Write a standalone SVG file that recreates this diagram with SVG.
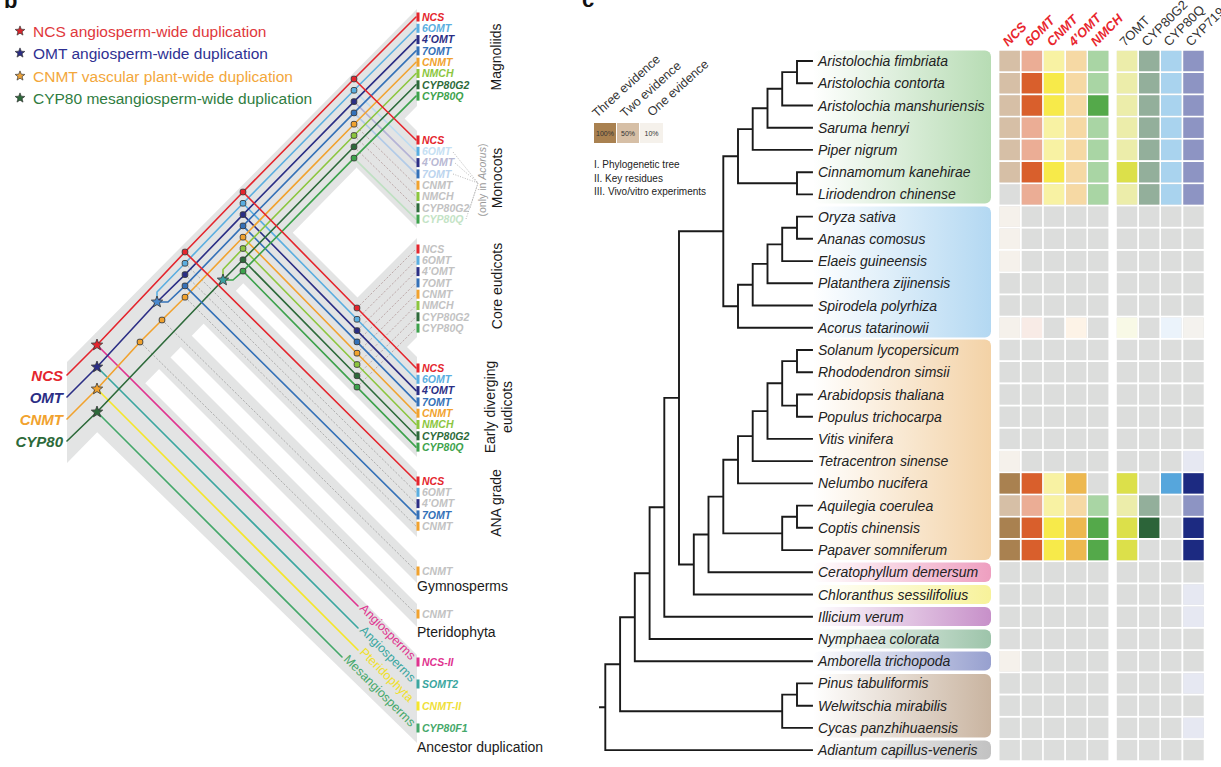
<svg xmlns="http://www.w3.org/2000/svg" width="1221" height="767" viewBox="0 0 1221 767">
<defs>
<style>
text{font-family:"Liberation Sans",Arial,sans-serif}
.bi{font-weight:bold;font-style:italic;font-size:10.5px}
.ln{fill:none;stroke-width:1.6;stroke-linejoin:round;stroke-linecap:round}
.dg{fill:none;stroke:#a0a0a0;stroke-width:0.8;stroke-dasharray:2.2 1.6}
.dr{fill:none;stroke:#b39a9a;stroke-width:0.8;stroke-dasharray:2.2 1.6}
.dot{fill:none;stroke:#9a9a9a;stroke-width:0.7;stroke-dasharray:1 1.5}
.band{fill:#e3e4e4}
.st{stroke:#333;stroke-width:0.8}
.dt{stroke:#3a3a3a;stroke-width:0.9}
.grp{font-size:14px;fill:#1a1a1a}
.sp{font-size:14px;font-style:italic;fill:#222}
.tr{fill:none;stroke:#1a1a1a;stroke-width:1.9;stroke-linecap:square}
.s0{stroke:#e4252d}.s1{stroke:#5aaee0}.s2{stroke:#2b2e85}.s3{stroke:#3471b8}.s4{stroke:#f1a22e}.s5{stroke:#8cc63e}.s6{stroke:#2d6a3a}.s7{stroke:#3da24c}
.f0{fill:#e4252d}.f1{fill:#5aaee0}.f2{fill:#2b2e85}.f3{fill:#3471b8}.f4{fill:#f1a22e}.f5{fill:#8cc63e}.f6{fill:#2d6a3a}.f7{fill:#3da24c}.fg{fill:#c2c2c2}
.hr{font-size:13px;font-weight:bold;font-style:italic;fill:#e8262d}
.hk{font-size:13px;fill:#333}
.anc{font-size:12.5px}
.ev{font-size:12.5px}
</style>
<path id="st" d="M0,-6L1.53,-2.1L5.71,-1.85L2.47,0.8L3.53,4.85L0,2.6L-3.53,4.85L-2.47,0.8L-5.71,-1.85L-1.53,-2.1Z"/>
<rect id="dt" x="-2.8" y="-2.8" width="5.6" height="5.6" rx="1.8"/>
<clipPath id="cb"><rect x="67" y="0" width="350" height="767"/></clipPath>
<linearGradient id="gMag" x1="0" x2="1"><stop offset="0" stop-color="#fff"/><stop offset="1" stop-color="#b7dcb4"/></linearGradient>
<linearGradient id="gMon" x1="0" x2="1"><stop offset="0" stop-color="#fff"/><stop offset="1" stop-color="#b3d8f2"/></linearGradient>
<linearGradient id="gEud" x1="0" x2="1"><stop offset="0" stop-color="#fff"/><stop offset="1" stop-color="#f3d2a6"/></linearGradient>
<linearGradient id="gCer" x1="0" x2="1"><stop offset="0" stop-color="#fff"/><stop offset="1" stop-color="#ee9fc0"/></linearGradient>
<linearGradient id="gChl" x1="0" x2="1"><stop offset="0" stop-color="#fff"/><stop offset="1" stop-color="#f7f29a"/></linearGradient>
<linearGradient id="gIll" x1="0" x2="1"><stop offset="0" stop-color="#fff"/><stop offset="1" stop-color="#c790c9"/></linearGradient>
<linearGradient id="gNym" x1="0" x2="1"><stop offset="0" stop-color="#fff"/><stop offset="1" stop-color="#9dc4aa"/></linearGradient>
<linearGradient id="gAmb" x1="0" x2="1"><stop offset="0" stop-color="#fff"/><stop offset="1" stop-color="#97a0cf"/></linearGradient>
<linearGradient id="gGym" x1="0" x2="1"><stop offset="0" stop-color="#fff"/><stop offset="1" stop-color="#c9b4a0"/></linearGradient>
<linearGradient id="gAdi" x1="0" x2="1"><stop offset="0" stop-color="#fff"/><stop offset="1" stop-color="#c2c2c2"/></linearGradient>
<g id="gr" fill="#dcdddc">
<rect x="999.5" y="0" width="20.4" height="20.4"/><rect x="1021.7" y="0" width="20.4" height="20.4"/><rect x="1043.8" y="0" width="20.4" height="20.4"/><rect x="1066" y="0" width="20.4" height="20.4"/><rect x="1088" y="0" width="20.4" height="20.4"/><rect x="1116.8" y="0" width="20.4" height="20.4"/><rect x="1139" y="0" width="20.4" height="20.4"/><rect x="1161" y="0" width="20.4" height="20.4"/><rect x="1183.3" y="0" width="20.4" height="20.4"/>
</g>
</defs>
<rect width="1221" height="767" fill="#fff"/>

<!-- ===== Panel b ===== -->
<text x="4" y="8" font-size="22" font-weight="bold" fill="#111">b</text>
<g id="legend-b" font-size="15.5">
<use href="#st" x="20" y="31" fill="#d8262c" class="st" transform="translate(20 31) scale(0.85) translate(-20 -31)"/>
<text x="33" y="36.5" fill="#e0383c">NCS angiosperm-wide duplication</text>
<use href="#st" x="20" y="53" fill="#2b2e85" class="st" transform="translate(20 53) scale(0.85) translate(-20 -53)"/>
<text x="33" y="58.5" fill="#2e3192">OMT angiosperm-wide duplication</text>
<use href="#st" x="20" y="76" fill="#eaa23a" class="st" transform="translate(20 76) scale(0.85) translate(-20 -76)"/>
<text x="33" y="81.5" fill="#f3a73b">CNMT vascular plant-wide duplication</text>
<use href="#st" x="20" y="98" fill="#2d6a3a" class="st" transform="translate(20 98) scale(0.85) translate(-20 -98)"/>
<text x="33" y="103.5" fill="#2f7d3f">CYP80 mesangiosperm-wide duplication</text>
</g>

<g id="bands" clip-path="url(#cb)" class="band">
<polygon points="67,362 417,9 417,106 67,463"/>
<polygon points="357,71 417,131 417,228 357,168"/>
<polygon points="243,190 250,190 417,357 417,457 243,283"/>
<polygon points="357,298 417,238 417,337 357,397"/>
<polygon points="190,245 417,472 417,537 190,310"/>
<polygon points="165,309 417,561 417,583 165,331"/>
<polygon points="143,330 417,604 417,627 143,353"/>
<polygon points="95,333 417,655 417,743 97,432"/>
</g>

<g id="connectors">
<path class="dg" d="M185,263.3L416,492.3M185,274.6L416,503.6M185,297.2L416,526.2M162,320L416,571M140,342L416,614"/>
<path class="dr" d="M357,308L416,249M357,319.3L416,260.3M357,330.6L416,271.6M357,341.9L416,282.9M357,353.2L416,294.2M357,364.5L416,305.5M357,375.8L416,316.8M357,387.1L416,328.1"/>
<path class="dr" d="M354,124.2L416,185.2M354,135.5L416,196.5M354,146.8L416,207.8"/>
<path class="ln" stroke="#bcdcf2" d="M354,90.3L416,151.3"/>
<path class="ln" stroke="#b4b3d6" d="M354,101.6L416,162.6"/>
<path class="ln" stroke="#b2cbe8" d="M354,112.9L416,173.9"/>
<path class="ln" stroke="#bfe0c2" d="M354,158.1L416,219.1"/>
<path class="ln" stroke="#e0338f" d="M97,345L358,606"/>
<path class="ln" stroke="#3aa6a0" d="M97,367L358,628"/>
<path class="ln" stroke="#f5e62a" d="M97,389L358,650"/>
<path class="ln" stroke="#45a86a" d="M97,412L342,657"/>
<path class="ln s7" d="M243,271.1L357,387.1L416,447.1"/>
<path class="ln s6" d="M243,259.8L357,375.8L416,435.8"/>
<path class="ln s5" d="M243,248.5L357,364.5L416,424.5"/>
<path class="ln s4" d="M243,237.2L357,353.2L416,413.2"/>
<path class="ln s3" d="M243,225.9L357,341.9L416,401.9"/>
<path class="ln s2" d="M243,214.6L357,330.6L416,390.6"/>
<path class="ln s1" d="M243,203.3L357,319.3L416,379.3"/>
<path class="ln s7" d="M223,280L233,280L243,271.1L354,158.1L416,96.1"/>
<path class="ln s6" d="M67,441L97,412L223,280L243,259.8L354,146.8L416,84.8"/>
<path class="ln s5" d="M223,280L223,269.5L243,248.5L354,135.5L416,73.5"/>
<path class="ln s4" d="M67,419L97,389L140,342L162,320L185,297.2L243,237.2L354,124.2L416,62.2"/>
<path class="ln s3" d="M157,302L168,302L185,285.9L243,225.9L354,112.9L416,50.9"/>
<path class="ln s2" d="M67,397L97,367L157,302L185,274.6L243,214.6L354,101.6L416,39.6"/>
<path class="ln s1" d="M157,302L157,292L185,263.3L243,203.3L354,90.3L416,28.3"/>
<path class="ln s3" d="M185,285.9L416,514.9"/>
<path class="ln s0" d="M67,375L97,345L185,252L243,192L354,79L416,17"/>
<path class="ln s0" d="M185,252L416,481M243,192L357,308L416,368M354,79L416,140"/>
</g>

<g id="nodes-b" class="dt">
<use href="#dt" x="185" y="252" class="f0"/><use href="#dt" x="185" y="263.3" class="f1"/><use href="#dt" x="185" y="274.6" class="f2"/><use href="#dt" x="185" y="285.9" class="f3"/><use href="#dt" x="185" y="297.2" class="f4"/>
<use href="#dt" x="243" y="192" class="f0"/><use href="#dt" x="243" y="203.3" class="f1"/><use href="#dt" x="243" y="214.6" class="f2"/><use href="#dt" x="243" y="225.9" class="f3"/><use href="#dt" x="243" y="237.2" class="f4"/><use href="#dt" x="243" y="248.5" class="f5"/><use href="#dt" x="243" y="259.8" class="f6"/><use href="#dt" x="243" y="271.1" class="f7"/>
<use href="#dt" x="354" y="79" class="f0"/><use href="#dt" x="354" y="90.3" class="f1"/><use href="#dt" x="354" y="101.6" class="f2"/><use href="#dt" x="354" y="112.9" class="f3"/><use href="#dt" x="354" y="124.2" class="f4"/><use href="#dt" x="354" y="135.5" class="f5"/><use href="#dt" x="354" y="146.8" class="f6"/><use href="#dt" x="354" y="158.1" class="f7"/>
<use href="#dt" x="357" y="308" class="f0"/><use href="#dt" x="357" y="319.3" class="f1"/><use href="#dt" x="357" y="330.6" class="f2"/><use href="#dt" x="357" y="341.9" class="f3"/><use href="#dt" x="357" y="353.2" class="f4"/><use href="#dt" x="357" y="364.5" class="f5"/><use href="#dt" x="357" y="375.8" class="f6"/><use href="#dt" x="357" y="387.1" class="f7"/>
<use href="#dt" x="140" y="342" class="f4"/><use href="#dt" x="162" y="320" class="f4"/>
</g>
<g id="stars-b" class="st">
<use href="#st" x="97" y="345" fill="#e4252d"/>
<use href="#st" x="97" y="367" fill="#2b2e85"/>
<use href="#st" x="97" y="389" fill="#f1a22e"/>
<use href="#st" x="97" y="412" fill="#2d6a3a"/>
<use href="#st" x="157" y="302" fill="#4a8ad0"/>
<use href="#st" x="223" y="280" fill="#3a9fa0"/>
</g>

<g id="root-labels" font-size="15" font-weight="bold" font-style="italic" text-anchor="end">
<text x="63" y="380.5" fill="#e4252d">NCS</text>
<text x="63" y="402.5" fill="#2b2e85">OMT</text>
<text x="63" y="424.5" fill="#f1a22e">CNMT</text>
<text x="63" y="446.5" fill="#2d6a3a">CYP80</text>
</g>

<g id="tips-magnoliids">
<rect x="416.5" y="12.5" width="3" height="9" class="f0"/><text x="422" y="20.8" class="bi f0">NCS</text>
<rect x="416.5" y="23.8" width="3" height="9" class="f1"/><text x="422" y="32.1" class="bi f1">6OMT</text>
<rect x="416.5" y="35.1" width="3" height="9" class="f2"/><text x="422" y="43.4" class="bi f2">4’OMT</text>
<rect x="416.5" y="46.4" width="3" height="9" class="f3"/><text x="422" y="54.7" class="bi f3">7OMT</text>
<rect x="416.5" y="57.7" width="3" height="9" class="f4"/><text x="422" y="66" class="bi f4">CNMT</text>
<rect x="416.5" y="69" width="3" height="9" class="f5"/><text x="422" y="77.3" class="bi f5">NMCH</text>
<rect x="416.5" y="80.3" width="3" height="9" class="f6"/><text x="422" y="88.6" class="bi f6">CYP80G2</text>
<rect x="416.5" y="91.6" width="3" height="9" class="f7"/><text x="422" y="99.9" class="bi f7">CYP80Q</text>
</g>
<g id="tips-monocots">
<rect x="416.5" y="135.5" width="3" height="9" class="f0"/><text x="422" y="143.8" class="bi f0">NCS</text>
<rect x="416.5" y="146.8" width="3" height="9" class="f1"/><text x="422" y="155.1" class="bi" fill="#c5e0f3">6OMT</text>
<rect x="416.5" y="158.1" width="3" height="9" class="f2"/><text x="422" y="166.4" class="bi" fill="#b8b8d3">4’OMT</text>
<rect x="416.5" y="169.4" width="3" height="9" class="f3"/><text x="422" y="177.7" class="bi" fill="#bcd4ee">7OMT</text>
<rect x="416.5" y="180.7" width="3" height="9" class="f4"/><text x="422" y="189" class="bi fg">CNMT</text>
<rect x="416.5" y="192" width="3" height="9" class="f5"/><text x="422" y="200.3" class="bi fg">NMCH</text>
<rect x="416.5" y="203.3" width="3" height="9" class="f6"/><text x="422" y="211.6" class="bi fg">CYP80G2</text>
<rect x="416.5" y="214.6" width="3" height="9" class="f7"/><text x="422" y="222.9" class="bi" fill="#c3e3c5">CYP80Q</text>
<path class="dot" d="M453,152L478,183M455,163L478,183M453,174L478,183M470,208L478,183M466,219L478,183"/>
</g>
<g id="tips-core">
<rect x="416.5" y="244.5" width="3" height="9" class="f0"/><text x="422" y="252.8" class="bi fg">NCS</text>
<rect x="416.5" y="255.8" width="3" height="9" class="f1"/><text x="422" y="264.1" class="bi fg">6OMT</text>
<rect x="416.5" y="267.1" width="3" height="9" class="f2"/><text x="422" y="275.4" class="bi fg">4’OMT</text>
<rect x="416.5" y="278.4" width="3" height="9" class="f3"/><text x="422" y="286.7" class="bi fg">7OMT</text>
<rect x="416.5" y="289.7" width="3" height="9" class="f4"/><text x="422" y="298" class="bi fg">CNMT</text>
<rect x="416.5" y="301" width="3" height="9" class="f5"/><text x="422" y="309.3" class="bi fg">NMCH</text>
<rect x="416.5" y="312.3" width="3" height="9" class="f6"/><text x="422" y="320.6" class="bi fg">CYP80G2</text>
<rect x="416.5" y="323.6" width="3" height="9" class="f7"/><text x="422" y="331.9" class="bi fg">CYP80Q</text>
</g>
<g id="tips-early">
<rect x="416.5" y="363.5" width="3" height="9" class="f0"/><text x="422" y="371.8" class="bi f0">NCS</text>
<rect x="416.5" y="374.8" width="3" height="9" class="f1"/><text x="422" y="383.1" class="bi f1">6OMT</text>
<rect x="416.5" y="386.1" width="3" height="9" class="f2"/><text x="422" y="394.4" class="bi f2">4’OMT</text>
<rect x="416.5" y="397.4" width="3" height="9" class="f3"/><text x="422" y="405.7" class="bi f3">7OMT</text>
<rect x="416.5" y="408.7" width="3" height="9" class="f4"/><text x="422" y="417" class="bi f4">CNMT</text>
<rect x="416.5" y="420" width="3" height="9" class="f5"/><text x="422" y="428.3" class="bi f5">NMCH</text>
<rect x="416.5" y="431.3" width="3" height="9" class="f6"/><text x="422" y="439.6" class="bi f6">CYP80G2</text>
<rect x="416.5" y="442.6" width="3" height="9" class="f7"/><text x="422" y="450.9" class="bi f7">CYP80Q</text>
</g>
<g id="tips-ana">
<rect x="416.5" y="476.5" width="3" height="9" class="f0"/><text x="422" y="484.8" class="bi f0">NCS</text>
<rect x="416.5" y="487.8" width="3" height="9" class="f1"/><text x="422" y="496.1" class="bi fg">6OMT</text>
<rect x="416.5" y="499.1" width="3" height="9" class="f2"/><text x="422" y="507.4" class="bi fg">4’OMT</text>
<rect x="416.5" y="510.4" width="3" height="9" class="f3"/><text x="422" y="518.7" class="bi f3">7OMT</text>
<rect x="416.5" y="521.7" width="3" height="9" class="f4"/><text x="422" y="530" class="bi fg">CNMT</text>
</g>
<g id="tips-gymno-pterido">
<rect x="416.5" y="566.5" width="3" height="9" class="f4"/><text x="422" y="574.8" class="bi fg">CNMT</text>
<text x="417" y="591" class="grp">Gymnosperms</text>
<rect x="416.5" y="609.5" width="3" height="9" class="f4"/><text x="422" y="617.8" class="bi fg">CNMT</text>
<text x="417" y="637" class="grp">Pteridophyta</text>
</g>
<g id="tips-ancestor">
<text transform="rotate(45 359 609)" x="359" y="609" class="anc" fill="#e0338f">Angiosperms</text>
<text transform="rotate(45 359 631)" x="359" y="631" class="anc" fill="#3aa6a0">Angiosperms</text>
<text transform="rotate(45 359 653)" x="359" y="653" class="anc" fill="#f0e02a">Pteridophyta</text>
<text transform="rotate(45 343 660)" x="343" y="660" class="anc" fill="#45a86a">Mesangiosperms</text>
<rect x="416.5" y="657.5" width="3" height="9" fill="#e0338f"/><text x="422" y="665.8" class="bi" fill="#e0338f">NCS-II</text>
<rect x="416.5" y="679.5" width="3" height="9" fill="#3aa6a0"/><text x="422" y="687.8" class="bi" fill="#3aa6a0">SOMT2</text>
<rect x="416.5" y="701.5" width="3" height="9" fill="#f5e62a"/><text x="422" y="709.8" class="bi" fill="#efe03a">CNMT-II</text>
<rect x="416.5" y="723.5" width="3" height="9" fill="#45a86a"/><text x="422" y="731.8" class="bi" fill="#45a86a">CYP80F1</text>
<text x="417" y="752" class="grp">Ancestor duplication</text>
</g>
<g id="clade-labels" class="grp" text-anchor="middle">
<text transform="rotate(-90 501 57)" x="501" y="57">Magnoliids</text>
<text transform="rotate(-90 502 178)" x="502" y="178">Monocots</text>
<text transform="rotate(-90 486 180)" x="486" y="180" font-size="10.5" fill="#9a9a9a">(only in <tspan font-style="italic">Acorus</tspan>)</text>
<text transform="rotate(-90 502 286)" x="502" y="286">Core eudicots</text>
<text transform="rotate(-90 495 407)" x="495" y="407">Early diverging</text>
<text transform="rotate(-90 512 407)" x="512" y="407">eudicots</text>
<text transform="rotate(-90 501 503)" x="501" y="503">ANA grade</text>
</g>

<!-- ===== Panel c ===== -->
<text x="582" y="7" font-size="22" font-weight="bold" fill="#111">c</text>
<g id="legend-c" fill="#333">
<text transform="rotate(-42 597 118)" x="597" y="118" class="ev">Three evidence</text>
<text transform="rotate(-42 625 118)" x="625" y="118" class="ev">Two evidence</text>
<text transform="rotate(-42 652 117)" x="652" y="117" class="ev">One evidence</text>
<rect x="594" y="123" width="22" height="20" fill="#a98150"/>
<rect x="617" y="123" width="22" height="20" fill="#d6bfa6"/>
<rect x="640" y="123" width="23" height="20" fill="#f5f1eb"/>
<g font-size="7" text-anchor="middle">
<text x="605" y="135.5">100%</text><text x="628" y="135.5">50%</text><text x="651.5" y="135.5">10%</text>
</g>
<g font-size="10" fill="#222">
<text x="594" y="168">I. Phylogenetic tree</text>
<text x="594" y="182">II. Key residues</text>
<text x="594" y="195">III. Vivo/vitro experiments</text>
</g>
</g>

<g id="clade-boxes">
<rect x="813" y="50.5" width="178" height="153" rx="6" fill="url(#gMag)"/>
<rect x="813" y="206.5" width="178" height="131" rx="6" fill="url(#gMon)"/>
<rect x="813" y="339.5" width="178" height="220.5" rx="6" fill="url(#gEud)"/>
<rect x="813" y="562.5" width="178" height="19.5" rx="6" fill="url(#gCer)"/>
<rect x="813" y="585" width="178" height="19" rx="6" fill="url(#gChl)"/>
<rect x="813" y="607" width="178" height="19" rx="6" fill="url(#gIll)"/>
<rect x="813" y="629.5" width="178" height="19" rx="6" fill="url(#gNym)"/>
<rect x="813" y="651.5" width="178" height="19" rx="6" fill="url(#gAmb)"/>
<rect x="813" y="674" width="178" height="63.5" rx="6" fill="url(#gGym)"/>
<rect x="813" y="740.5" width="178" height="19" rx="6" fill="url(#gAdi)"/>
</g>

<g id="tree-c">
<path class="tr" d="M797,61H812M797,83.2H812M782.2,105.5H812M767.5,127.7H812M752.7,149.9H812M797,172.2H812M797,194.4H812M797,216.6H812M797,238.8H812M782.2,261.1H812M767.5,283.3H812M752.7,305.5H812M738,327.8H812M797,350H812M797,372.2H812M797,394.5H812M797,416.7H812M767.5,438.9H812M752.7,461.1H812M738,483.4H812M797,505.6H812M797,527.8H812M782.2,550.1H812M708.5,572.3H812M693.8,594.5H812M664.3,616.8H812M649.6,639H812M634.8,661.2H812M797,683.4H812M797,705.7H812M782.2,727.9H812M605.3,750.1H812
M797,61V83.2M782.2,72.1V105.5M782.2,72.1H797M767.5,88.8V127.7M767.5,88.8H782.2M752.7,108.2V149.9M752.7,108.2H767.5M797,172.2V194.4M738,129.1V183.3M738,129.1H752.7M738,183.3H797
M797,216.6V238.8M782.2,227.7V261.1M782.2,227.7H797M767.5,244.4V283.3M767.5,244.4H782.2M752.7,263.9V305.5M752.7,263.9H767.5M738,284.7V327.8M738,284.7H752.7
M723.3,156.2V306.2M723.3,156.2H738M723.3,306.2H738
M797,350V372.2M797,394.5V416.7M782.2,361.1V405.6M782.2,361.1H797M782.2,405.6H797M767.5,383.3V438.9M767.5,383.3H782.2M752.7,411.1V461.1M752.7,411.1H767.5M738,436.1V483.4M738,436.1H752.7
M797,505.6V527.8M782.2,516.7V550.1M782.2,516.7H797
M723.3,459.8V533.4M723.3,459.8H738M723.3,533.4H782.2
M708.5,496.6V572.3M708.5,496.6H723.3M693.8,534.5V594.5M693.8,534.5H708.5
M679,231.2V564.5M679,231.2H723.3M679,564.5H693.8
M664.3,397.9V616.8M664.3,397.9H679M649.6,507.3V639M649.6,507.3H664.3M634.8,573.2V661.2M634.8,573.2H649.6
M797,683.4V705.7M782.2,694.6V727.9M782.2,694.6H797
M620.1,617.2V711.2M620.1,617.2H634.8M620.1,711.2H782.2
M605.3,664.2V750.1M605.3,664.2H620.1M600,707.2H605.3"/>
</g>

<g id="species" class="sp">
<text x="818" y="66">Aristolochia fimbriata</text>
<text x="818" y="88.2">Aristolochia contorta</text>
<text x="818" y="110.5">Aristolochia manshuriensis</text>
<text x="818" y="132.7">Saruma henryi</text>
<text x="818" y="154.9">Piper nigrum</text>
<text x="818" y="177.2">Cinnamomum kanehirae</text>
<text x="818" y="199.4">Liriodendron chinense</text>
<text x="818" y="221.6">Oryza sativa</text>
<text x="818" y="243.8">Ananas comosus</text>
<text x="818" y="266.1">Elaeis guineensis</text>
<text x="818" y="288.3">Platanthera zijinensis</text>
<text x="818" y="310.5">Spirodela polyrhiza</text>
<text x="818" y="332.8">Acorus tatarinowii</text>
<text x="818" y="355">Solanum lycopersicum</text>
<text x="818" y="377.2">Rhododendron simsii</text>
<text x="818" y="399.5">Arabidopsis thaliana</text>
<text x="818" y="421.7">Populus trichocarpa</text>
<text x="818" y="443.9">Vitis vinifera</text>
<text x="818" y="466.1">Tetracentron sinense</text>
<text x="818" y="488.4">Nelumbo nucifera</text>
<text x="818" y="510.6">Aquilegia coerulea</text>
<text x="818" y="532.8">Coptis chinensis</text>
<text x="818" y="555.1">Papaver somniferum</text>
<text x="818" y="577.3">Ceratophyllum demersum</text>
<text x="818" y="599.5">Chloranthus sessilifolius</text>
<text x="818" y="621.8">Illicium verum</text>
<text x="818" y="644">Nymphaea colorata</text>
<text x="818" y="666.2">Amborella trichopoda</text>
<text x="818" y="688.4">Pinus tabuliformis</text>
<text x="818" y="710.7">Welwitschia mirabilis</text>
<text x="818" y="732.9">Cycas panzhihuaensis</text>
<text x="818" y="755.1">Adiantum capillus-veneris</text>
</g>

<g id="headers">
<text transform="rotate(-45 1008 47)" x="1008" y="47" class="hr">NCS</text>
<text transform="rotate(-45 1030 47)" x="1030" y="47" class="hr">6OMT</text>
<text transform="rotate(-45 1052 47)" x="1052" y="47" class="hr">CNMT</text>
<text transform="rotate(-45 1074 47)" x="1074" y="47" class="hr">4’OMT</text>
<text transform="rotate(-45 1096 47)" x="1096" y="47" class="hr">NMCH</text>
<text transform="rotate(-45 1125 47)" x="1125" y="47" class="hk">7OMT</text>
<text transform="rotate(-45 1147 47)" x="1147" y="47" class="hk">CYP80G2</text>
<text transform="rotate(-45 1169 47)" x="1169" y="47" class="hk">CYP80Q</text>
<text transform="rotate(-45 1191 47)" x="1191" y="47" class="hk">CYP719</text>
</g>

<g id="heatmap">
<use href="#gr" y="50.8"/><use href="#gr" y="73"/><use href="#gr" y="95.3"/><use href="#gr" y="117.5"/><use href="#gr" y="139.7"/><use href="#gr" y="162"/><use href="#gr" y="184.2"/><use href="#gr" y="206.4"/><use href="#gr" y="228.6"/><use href="#gr" y="250.9"/><use href="#gr" y="273.1"/><use href="#gr" y="295.3"/><use href="#gr" y="317.6"/><use href="#gr" y="339.8"/><use href="#gr" y="362"/><use href="#gr" y="384.3"/><use href="#gr" y="406.5"/><use href="#gr" y="428.7"/><use href="#gr" y="450.9"/><use href="#gr" y="473.2"/><use href="#gr" y="495.4"/><use href="#gr" y="517.6"/><use href="#gr" y="539.9"/><use href="#gr" y="562.1"/><use href="#gr" y="584.3"/><use href="#gr" y="606.6"/><use href="#gr" y="628.8"/><use href="#gr" y="651"/><use href="#gr" y="673.2"/><use href="#gr" y="695.5"/><use href="#gr" y="717.7"/><use href="#gr" y="739.9"/>
<rect x="999.5" y="50.8" width="20.4" height="20.4" fill="#d6bfa6"/><rect x="1021.7" y="50.8" width="20.4" height="20.4" fill="#ebad95"/><rect x="1043.8" y="50.8" width="20.4" height="20.4" fill="#f8f2a3"/><rect x="1066" y="50.8" width="20.4" height="20.4" fill="#f6d9a4"/><rect x="1088" y="50.8" width="20.4" height="20.4" fill="#a9d5a4"/><rect x="1116.8" y="50.8" width="20.4" height="20.4" fill="#ecedaa"/><rect x="1139" y="50.8" width="20.4" height="20.4" fill="#93af9b"/><rect x="1161" y="50.8" width="20.4" height="20.4" fill="#a9d3ee"/><rect x="1183.3" y="50.8" width="20.4" height="20.4" fill="#8d94c3"/>
<rect x="999.5" y="73" width="20.4" height="20.4" fill="#d6bfa6"/><rect x="1021.7" y="73" width="20.4" height="20.4" fill="#d95f2c"/><rect x="1043.8" y="73" width="20.4" height="20.4" fill="#f7ea4a"/><rect x="1066" y="73" width="20.4" height="20.4" fill="#f6d9a4"/><rect x="1088" y="73" width="20.4" height="20.4" fill="#a9d5a4"/><rect x="1116.8" y="73" width="20.4" height="20.4" fill="#ecedaa"/><rect x="1139" y="73" width="20.4" height="20.4" fill="#93af9b"/><rect x="1161" y="73" width="20.4" height="20.4" fill="#a9d3ee"/><rect x="1183.3" y="73" width="20.4" height="20.4" fill="#8d94c3"/>
<rect x="999.5" y="95.3" width="20.4" height="20.4" fill="#d6bfa6"/><rect x="1021.7" y="95.3" width="20.4" height="20.4" fill="#d95f2c"/><rect x="1043.8" y="95.3" width="20.4" height="20.4" fill="#f7ea4a"/><rect x="1066" y="95.3" width="20.4" height="20.4" fill="#f6d9a4"/><rect x="1088" y="95.3" width="20.4" height="20.4" fill="#54a94a"/><rect x="1116.8" y="95.3" width="20.4" height="20.4" fill="#ecedaa"/><rect x="1139" y="95.3" width="20.4" height="20.4" fill="#93af9b"/><rect x="1161" y="95.3" width="20.4" height="20.4" fill="#a9d3ee"/><rect x="1183.3" y="95.3" width="20.4" height="20.4" fill="#8d94c3"/>
<rect x="999.5" y="117.5" width="20.4" height="20.4" fill="#d6bfa6"/><rect x="1021.7" y="117.5" width="20.4" height="20.4" fill="#ebad95"/><rect x="1043.8" y="117.5" width="20.4" height="20.4" fill="#f8f2a3"/><rect x="1066" y="117.5" width="20.4" height="20.4" fill="#f6d9a4"/><rect x="1088" y="117.5" width="20.4" height="20.4" fill="#a9d5a4"/><rect x="1116.8" y="117.5" width="20.4" height="20.4" fill="#ecedaa"/><rect x="1139" y="117.5" width="20.4" height="20.4" fill="#93af9b"/><rect x="1161" y="117.5" width="20.4" height="20.4" fill="#a9d3ee"/><rect x="1183.3" y="117.5" width="20.4" height="20.4" fill="#8d94c3"/>
<rect x="999.5" y="139.7" width="20.4" height="20.4" fill="#d6bfa6"/><rect x="1021.7" y="139.7" width="20.4" height="20.4" fill="#ebad95"/><rect x="1043.8" y="139.7" width="20.4" height="20.4" fill="#f8f2a3"/><rect x="1066" y="139.7" width="20.4" height="20.4" fill="#f6d9a4"/><rect x="1088" y="139.7" width="20.4" height="20.4" fill="#a9d5a4"/><rect x="1116.8" y="139.7" width="20.4" height="20.4" fill="#ecedaa"/><rect x="1139" y="139.7" width="20.4" height="20.4" fill="#93af9b"/><rect x="1161" y="139.7" width="20.4" height="20.4" fill="#a9d3ee"/><rect x="1183.3" y="139.7" width="20.4" height="20.4" fill="#8d94c3"/>
<rect x="999.5" y="162" width="20.4" height="20.4" fill="#d6bfa6"/><rect x="1021.7" y="162" width="20.4" height="20.4" fill="#d95f2c"/><rect x="1043.8" y="162" width="20.4" height="20.4" fill="#f7ea4a"/><rect x="1066" y="162" width="20.4" height="20.4" fill="#f6d9a4"/><rect x="1088" y="162" width="20.4" height="20.4" fill="#a9d5a4"/><rect x="1116.8" y="162" width="20.4" height="20.4" fill="#dce04a"/><rect x="1139" y="162" width="20.4" height="20.4" fill="#93af9b"/><rect x="1161" y="162" width="20.4" height="20.4" fill="#a9d3ee"/><rect x="1183.3" y="162" width="20.4" height="20.4" fill="#8d94c3"/>
<rect x="1021.7" y="184.2" width="20.4" height="20.4" fill="#ebad95"/><rect x="1043.8" y="184.2" width="20.4" height="20.4" fill="#f8f2a3"/><rect x="1066" y="184.2" width="20.4" height="20.4" fill="#f6d9a4"/><rect x="1088" y="184.2" width="20.4" height="20.4" fill="#a9d5a4"/><rect x="1116.8" y="184.2" width="20.4" height="20.4" fill="#ecedaa"/><rect x="1139" y="184.2" width="20.4" height="20.4" fill="#93af9b"/><rect x="1161" y="184.2" width="20.4" height="20.4" fill="#a9d3ee"/><rect x="1183.3" y="184.2" width="20.4" height="20.4" fill="#8d94c3"/>
<rect x="999.5" y="206.4" width="20.4" height="20.4" fill="#f5f1eb"/><rect x="999.5" y="228.6" width="20.4" height="20.4" fill="#f5f1eb"/><rect x="999.5" y="250.9" width="20.4" height="20.4" fill="#f5f1eb"/>
<rect x="999.5" y="317.6" width="20.4" height="20.4" fill="#f5f1eb"/><rect x="1021.7" y="317.6" width="20.4" height="20.4" fill="#f8ebe6"/><rect x="1066" y="317.6" width="20.4" height="20.4" fill="#fdf3e7"/><rect x="1116.8" y="317.6" width="20.4" height="20.4" fill="#f8f9e6"/><rect x="1161" y="317.6" width="20.4" height="20.4" fill="#ebf3fb"/><rect x="1183.3" y="317.6" width="20.4" height="20.4" fill="#f4f2ee"/>
<rect x="999.5" y="450.9" width="20.4" height="20.4" fill="#f5f1eb"/><rect x="1183.3" y="450.9" width="20.4" height="20.4" fill="#e6e8f2"/>
<rect x="999.5" y="473.2" width="20.4" height="20.4" fill="#a98150"/><rect x="1021.7" y="473.2" width="20.4" height="20.4" fill="#d95f2c"/><rect x="1043.8" y="473.2" width="20.4" height="20.4" fill="#f8f2a3"/><rect x="1066" y="473.2" width="20.4" height="20.4" fill="#edb84f"/><rect x="1116.8" y="473.2" width="20.4" height="20.4" fill="#dce04a"/><rect x="1161" y="473.2" width="20.4" height="20.4" fill="#56a6dc"/><rect x="1183.3" y="473.2" width="20.4" height="20.4" fill="#1c2a81"/>
<rect x="999.5" y="495.4" width="20.4" height="20.4" fill="#d6bfa6"/><rect x="1021.7" y="495.4" width="20.4" height="20.4" fill="#ebad95"/><rect x="1043.8" y="495.4" width="20.4" height="20.4" fill="#f8f2a3"/><rect x="1066" y="495.4" width="20.4" height="20.4" fill="#f6d9a4"/><rect x="1088" y="495.4" width="20.4" height="20.4" fill="#a9d5a4"/><rect x="1116.8" y="495.4" width="20.4" height="20.4" fill="#ecedaa"/><rect x="1139" y="495.4" width="20.4" height="20.4" fill="#93af9b"/><rect x="1183.3" y="495.4" width="20.4" height="20.4" fill="#8d94c3"/>
<rect x="999.5" y="517.6" width="20.4" height="20.4" fill="#a98150"/><rect x="1021.7" y="517.6" width="20.4" height="20.4" fill="#d95f2c"/><rect x="1043.8" y="517.6" width="20.4" height="20.4" fill="#f7ea4a"/><rect x="1066" y="517.6" width="20.4" height="20.4" fill="#edb84f"/><rect x="1088" y="517.6" width="20.4" height="20.4" fill="#54a94a"/><rect x="1116.8" y="517.6" width="20.4" height="20.4" fill="#dce04a"/><rect x="1139" y="517.6" width="20.4" height="20.4" fill="#2c6439"/><rect x="1183.3" y="517.6" width="20.4" height="20.4" fill="#1c2a81"/>
<rect x="999.5" y="539.9" width="20.4" height="20.4" fill="#a98150"/><rect x="1021.7" y="539.9" width="20.4" height="20.4" fill="#d95f2c"/><rect x="1043.8" y="539.9" width="20.4" height="20.4" fill="#f7ea4a"/><rect x="1066" y="539.9" width="20.4" height="20.4" fill="#edb84f"/><rect x="1088" y="539.9" width="20.4" height="20.4" fill="#54a94a"/><rect x="1116.8" y="539.9" width="20.4" height="20.4" fill="#dce04a"/><rect x="1183.3" y="539.9" width="20.4" height="20.4" fill="#1c2a81"/>
<rect x="1183.3" y="584.3" width="20.4" height="20.4" fill="#e6e8f2"/><rect x="1183.3" y="606.6" width="20.4" height="20.4" fill="#e6e8f2"/><rect x="999.5" y="651" width="20.4" height="20.4" fill="#f5f1eb"/><rect x="1183.3" y="673.2" width="20.4" height="20.4" fill="#e6e8f2"/><rect x="1183.3" y="717.7" width="20.4" height="20.4" fill="#e6e8f2"/>
</g>
</svg>
